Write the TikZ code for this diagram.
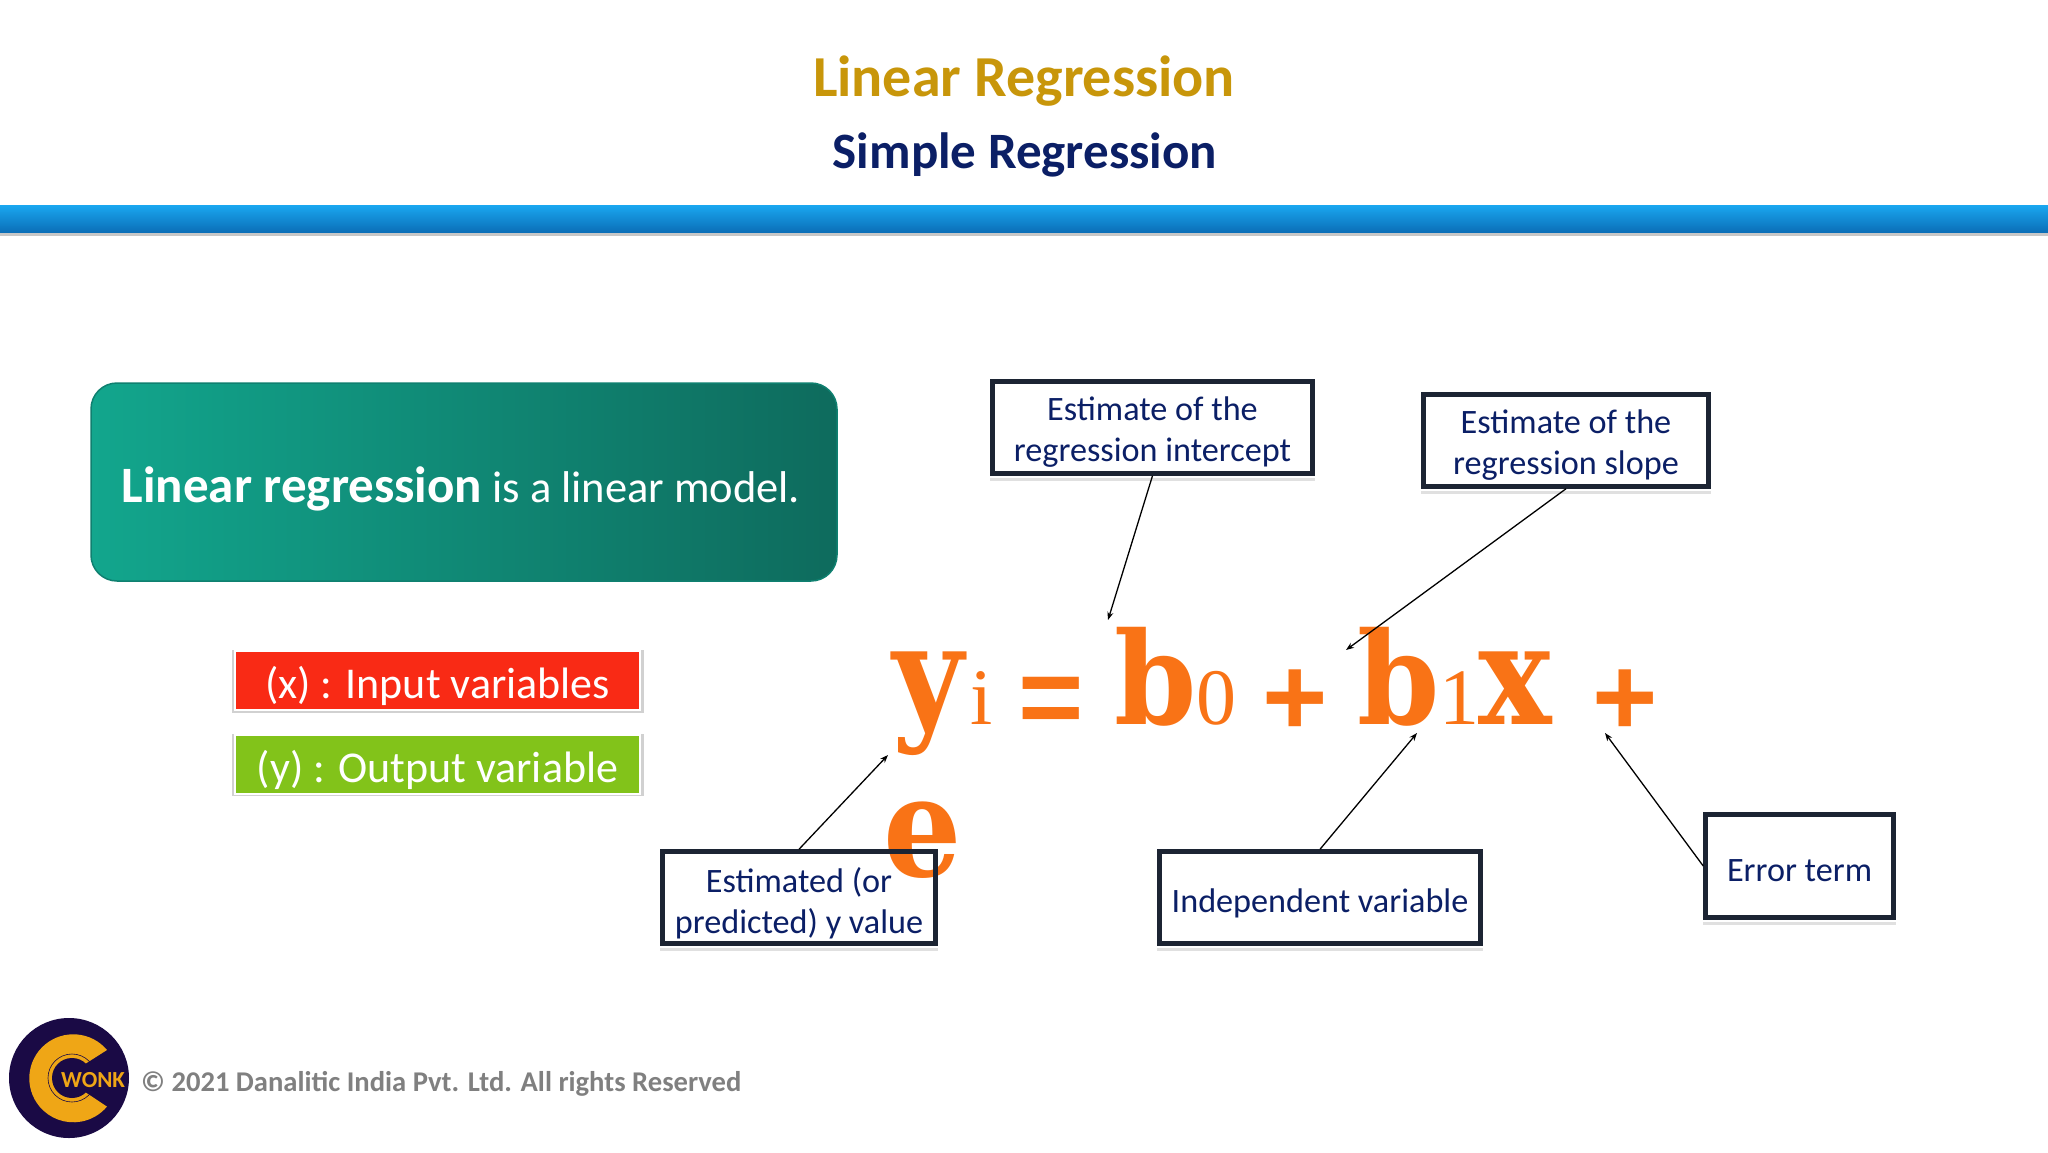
\documentclass[tikz,border=0pt]{standalone}
\usepackage{fontspec}
\setmainfont{Carlito}
\newfontfamily\eqbold{DejaVu Serif}[FakeStretch=0.88]
\newfontfamily\eqtall{DejaVu Serif}[FakeStretch=0.92]
\newfontfamily\eqreg{Liberation Serif}
\newfontfamily\eqop{Liberation Sans}
\usetikzlibrary{arrows.meta,calc}
\definecolor{navy}{HTML}{0B1F66}
\definecolor{goldt}{HTML}{C8960A}
\definecolor{eqor}{HTML}{F97316}
\definecolor{logod}{HTML}{1A0A45}
\definecolor{logog}{HTML}{EFA616}
\definecolor{boxline}{HTML}{1C2433}
\definecolor{barhi}{HTML}{1AA7F0}
\definecolor{barlo}{HTML}{0B6FB8}
\definecolor{teall}{HTML}{12A68D}
\definecolor{tealr}{HTML}{0E6B5D}
\definecolor{tealb}{HTML}{0F8070}
\definecolor{tagred}{HTML}{F92A15}
\definecolor{taggreen}{HTML}{82C31A}
\tikzset{
  x=1pt,y=-1pt,
  callout/.style={draw=boxline,line width=4.5pt,inner sep=0pt,anchor=center,minimum height=92pt},
  calltext/.style={align=center,text=navy,inner sep=0pt,font=\fontsize{34.2}{41}\selectfont,anchor=center},
  lead/.style={draw=black,line width=1.3pt,-{Stealth[length=8pt,width=6pt]}},
  tag/.style={draw=white,line width=2pt,inner sep=0pt,minimum width=405pt,minimum height=59pt},
  tagtext/.style={text=white,inner sep=0pt,font=\fontsize{44}{48}\selectfont},
  bigg/.style={text=eqor,inner sep=0pt,font=\eqbold\bfseries\fontsize{140}{150}\selectfont,anchor=base},
  bigb/.style={text=eqor,inner sep=0pt,font=\eqtall\bfseries\fontsize{128}{150}\selectfont,anchor=base},
  opg/.style={text=eqor,inner sep=0pt,font=\eqop\bfseries\fontsize{112}{120}\selectfont,anchor=base},
  subg/.style={text=eqor,inner sep=0pt,font=\eqreg\fontsize{80}{80}\selectfont,anchor=base},
  titlet/.style={inner sep=0pt,anchor=center},
  boxshadow/.style={draw=black!12,line width=3pt},
}
\begin{document}
\begin{tikzpicture}
\useasboundingbox (0,0) rectangle (2048,1152);
\fill[white] (0,0) rectangle (2048,1152);
% title
\node[titlet,text=goldt,font=\bfseries\fontsize{58}{60}\selectfont] (title) at (1024,81) {Linear Regression};
\node[titlet,text=navy,font=\bfseries\fontsize{51}{52}\selectfont] (subtitle) at (1025,155) {Simple Regression};
% bar
\fill[black!22] (0,230) rectangle (2048,236);
\shade[top color=barhi,bottom color=barlo] (0,205) rectangle (2048,232);
% teal panel
\shade[left color=teall,right color=tealr,rounded corners=26pt] (91,383) rectangle (837,581);
\draw[draw=tealb,line width=1.5pt,rounded corners=26pt] (91,383) rectangle (837,581);
\node[inner sep=0pt,text=white,font=\fontsize{44.5}{52}\selectfont] (panel) at (461,489) {{\bfseries\fontsize{51}{52}\selectfont Linear regression} is a linear model.};
% tags
\fill[black!18] (232,650) rectangle (644,713);
\fill[black!18] (232,734) rectangle (644,796);
\node[tag,fill=tagred] (inp) at (437.5,680) {};
\node[tag,fill=taggreen] (outp) at (437.5,764) {};
\node[tagtext] (inpt) at (437.5,686) {(x) : Input variables};
\node[tagtext] (outpt) at (437.5,770) {(y) : Output variable};
% equation
\node[bigg] (ey) at (928,724) {y};
\node[subg] (ei) at (982,724) {i};
\node[opg] (eeq) at (1051,735) {=};
\node[bigb] (eb0) at (1156,724) {b};
\node[subg] (e0) at (1216,724) {0};
\node[opg] (ep1) at (1295,735) {+};
\node[bigb] (eb1) at (1399,724) {b};
\node[subg] (e1) at (1459,724) {1};
\node[bigg] (ex) at (1515,724) {x};
\node[opg] (ep2) at (1625,735) {+};
\node[bigg] (ee) at (923,876) {e};
% callouts
\node[callout,minimum width=320pt] (ci) at (1152.5,427.5) {};
\node[callout,minimum width=285pt] (cs) at (1566,440.5) {};
\node[callout,minimum width=273pt] (cy) at (799,897.5) {};
\node[callout,minimum width=321pt] (cv) at (1320,897.5) {};
\node[callout,minimum width=188pt,minimum height=103pt] (ce) at (1799.5,866) {};
\foreach \b in {ci,cs,cy,cv,ce}{
  \draw[boxshadow] ([yshift=-4pt]\b.south west) -- ([yshift=-4pt]\b.south east);
}
\node[calltext] (cit) at (1152.5,432.5) {Estimate of the\\regression intercept};
\node[calltext] (cst) at (1566,445.5) {Estimate of the\\regression slope};
\node[calltext] (cyt) at (799,903) {Estimated (or\\predicted) y value};
\node[calltext] (cvt) at (1320,903) {Independent variable};
\node[calltext] (cet) at (1799.5,871) {Error term};
% connector targets
\coordinate (ti) at (1108,620);
\coordinate (ts) at (1346,650);
\coordinate (ty) at (888,755);
\coordinate (tv) at (1417,733);
\coordinate (te) at (1605,733);
\draw[lead] (ci.south) -- (ti);
\draw[lead] (cs.south) -- (ts);
\draw[lead] (cy.north) -- (ty);
\draw[lead] (cv.north) -- (tv);
\draw[lead] (ce.west) -- (te);
% logo
\fill[logod] (69,1078) circle (60);
\fill[logog] (107,1050) arc[start angle=-40,end angle=-320,radius=44] -- (85,1092) -- (85,1064) -- cycle;
\draw[logod,line width=.6pt] (72,1078) circle (24);
\fill[logod] (72,1078) circle (20);
\node[inner sep=0pt,anchor=west,text=logog,font=\bfseries\fontsize{23}{25}\selectfont] (wonk) at (61,1080) {WONK};
% footer
\node[inner sep=0pt,anchor=west,text=black!50,font=\bfseries\fontsize{28.6}{30}\selectfont] (foot) at (141,1084) {© 2021 Danalitic India Pvt. Ltd. All rights Reserved};
\end{tikzpicture}
\end{document}
